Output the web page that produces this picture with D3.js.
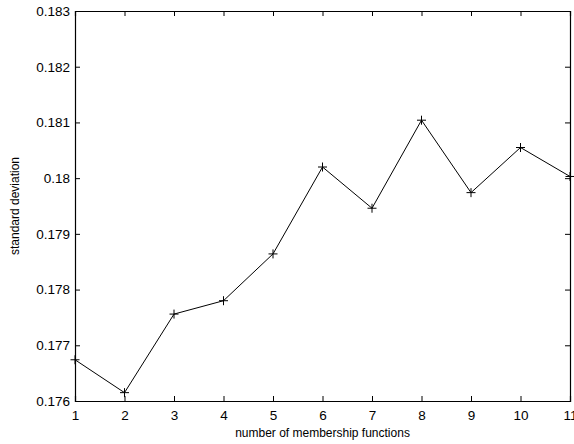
<!DOCTYPE html>
<html>
<head>
<meta charset="utf-8">
<script src="https://cdn.jsdelivr.net/npm/d3@7"></script>
<style>
  body { margin: 0; background: #fff; overflow: hidden; }
  text { font-family: "Liberation Sans", Arial, sans-serif; fill: #000; }
</style>
</head>
<body>
<script>
// data
var mfCount = [1, 2, 3, 4, 5, 6, 7, 8, 9, 10, 11];
var stdDev = [0.17674, 0.17615, 0.17756, 0.17780, 0.17864, 0.18020,
              0.17946, 0.18104, 0.17974, 0.18055, 0.18003];
var yTicks = [0.176, 0.177, 0.178, 0.179, 0.18, 0.181, 0.182, 0.183];
var xTicks = [1, 2, 3, 4, 5, 6, 7, 8, 9, 10, 11];

var width = 574;
var height = 444;

var margin = { top: 11, bottom: 43, left: 75, right: 4 };

var svg = d3.select("body")
    .append("svg")
    .attr("width", width)
    .attr("height", height);

var x = d3.scaleLinear()
    .domain([1, 11])
    .range([margin.left, width - margin.right]);

var y = d3.scaleLinear()
    .domain([0.176, 0.183])
    .range([height - margin.bottom, margin.top]);

var tickLen = 5;

// bottom axis, ticks pointing inward
var xAxis = svg.append("g")
    .attr("transform", "translate(0," + y(0.176) + ")")
    .call(d3.axisBottom(x).tickValues(xTicks).tickSize(-tickLen).tickPadding(9)
        .tickFormat(d3.format("d")));

// top axis, no labels
var xAxisTop = svg.append("g")
    .attr("transform", "translate(0," + y(0.183) + ")")
    .call(d3.axisTop(x).tickValues(xTicks).tickSize(-tickLen).tickFormat(""));

// left axis
var yAxis = svg.append("g")
    .attr("transform", "translate(" + x(1) + ",0)")
    .call(d3.axisLeft(y).tickValues(yTicks).tickSize(-tickLen).tickPadding(5)
        .tickFormat(function(d) { return +d.toFixed(3); }));

// right axis, no labels
var yAxisRight = svg.append("g")
    .attr("transform", "translate(" + x(11) + ",0)")
    .call(d3.axisRight(y).tickValues(yTicks).tickSize(-tickLen).tickFormat(""));

svg.selectAll(".domain")
    .attr("stroke", "#000")
    .attr("stroke-width", 1.2);
svg.selectAll(".tick line")
    .attr("stroke", "#000");
svg.selectAll(".tick text")
    .style("font-size", "13.5px")
    .style("font-family", "'Liberation Sans', Arial, sans-serif");

// the data line
var line = d3.line()
    .x(function(d, i) { return x(mfCount[i]); })
    .y(function(d) { return y(d); });

svg.append("path")
    .datum(stdDev)
    .attr("d", line)
    .attr("fill", "none")
    .attr("stroke", "#000")
    .attr("stroke-width", 1);

// plus markers
var s = 4.5;
svg.selectAll(".marker")
    .data(stdDev)
    .enter()
    .append("path")
    .attr("class", "marker")
    .attr("d", function(d, i) {
        var cx = x(mfCount[i]), cy = y(d);
        return "M" + (cx - s) + "," + cy + "H" + (cx + s) +
               "M" + cx + "," + (cy - s) + "V" + (cy + s);
    })
    .attr("stroke", "#000")
    .attr("stroke-width", 1);

// axis titles
svg.append("text")
    .attr("x", (x(1) + x(11)) / 2)
    .attr("y", 437)
    .attr("text-anchor", "middle")
    .style("font-size", "12px")
    .text("number of membership functions");

svg.append("text")
    .attr("transform", "translate(19," + (y(0.1795)) + ") rotate(-90)")
    .attr("text-anchor", "middle")
    .style("font-size", "12px")
    .text("standard deviation");
</script>
</body>
</html>
